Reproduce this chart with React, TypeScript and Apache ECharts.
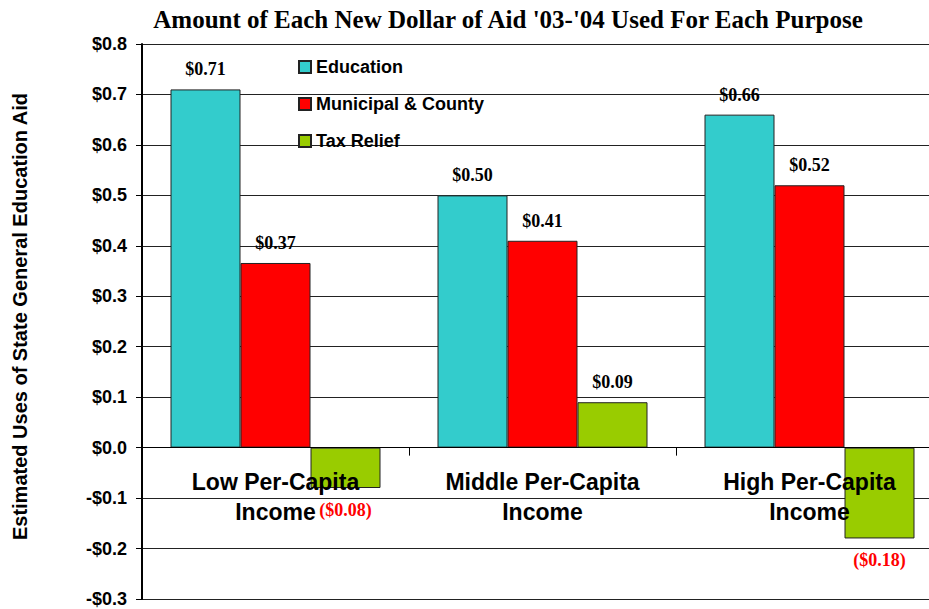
import React, { useEffect, useRef } from "react";
import * as echarts from "echarts";

const categories = ["Low Per-Capita\nIncome", "Middle Per-Capita\nIncome", "High Per-Capita\nIncome"];
const education = [0.71, 0.5, 0.66];
const municipal = [0.366, 0.41, 0.52];
const taxRelief = [-0.08, 0.09, -0.18];
const seriesNames = ["Education", "Municipal & County", "Tax Relief"];
const colors = ["#33CCCC", "#FF0000", "#99CC00"];
const yMin = -0.3;
const yMax = 0.8;

const fmtLabel = (v: number) =>
  v < 0 ? `($${Math.abs(v).toFixed(2)})` : `$${v.toFixed(2)}`;
const fmtAxis = (v: number) =>
  (v < 0 ? "-" : "") + "$" + Math.abs(v).toFixed(1);

export default function App() {
  const ref = useRef<HTMLDivElement>(null);
  useEffect(() => {
    if (!ref.current) return;
    const chart = echarts.init(ref.current, null, { renderer: "svg" });
    const gridH = 555;
    const zeroOffset = (gridH * (0 - yMin)) / (yMax - yMin);
    const mk = (name: string, vals: number[], color: string) => ({
      name,
      type: "bar",
      barWidth: 70,
      barGap: "0%",
      itemStyle: { color, borderColor: "#222", borderWidth: 1 },
      data: vals.map((v) => ({
        value: v,
        label: {
          position: v < 0 ? "bottom" : "top",
          color: v < 0 ? "#FF0000" : "#000",
          distance: v < 0 ? 13 : 11,
        },
      })),
      label: {
        show: true,
        fontFamily: "Liberation Serif",
        fontWeight: "bold",
        fontSize: 18,
        formatter: (p: any) => fmtLabel(p.value),
      },
      z: 2,
    });
    chart.setOption({
      animation: false,
      backgroundColor: "#fff",
      title: {
        text: "Amount of Each New Dollar of Aid '03-'04 Used For Each Purpose",
        left: 503,
        textAlign: "center",
        top: 2,
        textStyle: {
          fontFamily: "Liberation Serif",
          fontWeight: "bold",
          fontSize: 25,
          color: "#000",
        },
      },
      legend: {
        orient: "vertical",
        left: 293,
        top: 53,
        itemWidth: 12,
        itemHeight: 12,
        itemGap: 19,
        icon: "rect",
        data: seriesNames,
        textStyle: {
          fontFamily: "Arial, Liberation Sans",
          fontWeight: "bold",
          fontSize: 18,
          color: "#000",
        },
      },
      grid: {
        left: 142,
        top: 44,
        width: 801,
        height: gridH,
        containLabel: false,
        outerBoundsMode: "none",
      },
      xAxis: {
        type: "category",
        data: categories,
        z: 5,
        offset: -zeroOffset,
        axisLine: { show: true, onZero: false, lineStyle: { color: "#000", width: 1 } },
        axisTick: { show: true, length: 8, lineStyle: { color: "#000" } },
        axisLabel: {
          interval: 0,
          margin: 19,
          fontFamily: "Arial, Liberation Sans",
          fontWeight: "bold",
          fontSize: 23,
          lineHeight: 30,
          color: "#000",
        },
      },
      yAxis: {
        type: "value",
        min: yMin,
        max: yMax,
        interval: 0.1,
        name: "Estimated Uses of State General Education Aid",
        nameLocation: "middle",
        nameGap: 112,
        nameTextStyle: {
          fontFamily: "Arial, Liberation Sans",
          fontWeight: "bold",
          fontSize: 20,
          color: "#000",
          padding: [0, 0, 0, 10],
        },
        axisLine: { show: true, lineStyle: { color: "#000", width: 2 } },
        axisTick: { show: true, length: 6, lineStyle: { color: "#000" } },
        axisLabel: {
          margin: 15,
          fontFamily: "Arial, Liberation Sans",
          fontWeight: "bold",
          fontSize: 18,
          color: "#000",
          formatter: (v: number) => fmtAxis(Math.round(v * 10) / 10),
        },
        splitLine: { show: true, lineStyle: { color: "#222", width: 1 } },
      },
      series: [
        mk(seriesNames[0], education, colors[0]),
        mk(seriesNames[1], municipal, colors[1]),
        mk(seriesNames[2], taxRelief, colors[2]),
      ],
    });
    return () => chart.dispose();
  }, []);
  return (
    <div
      ref={ref}
      style={{ position: "fixed", left: 0, top: 0, width: 929, height: 609 }}
    />
  );
}
